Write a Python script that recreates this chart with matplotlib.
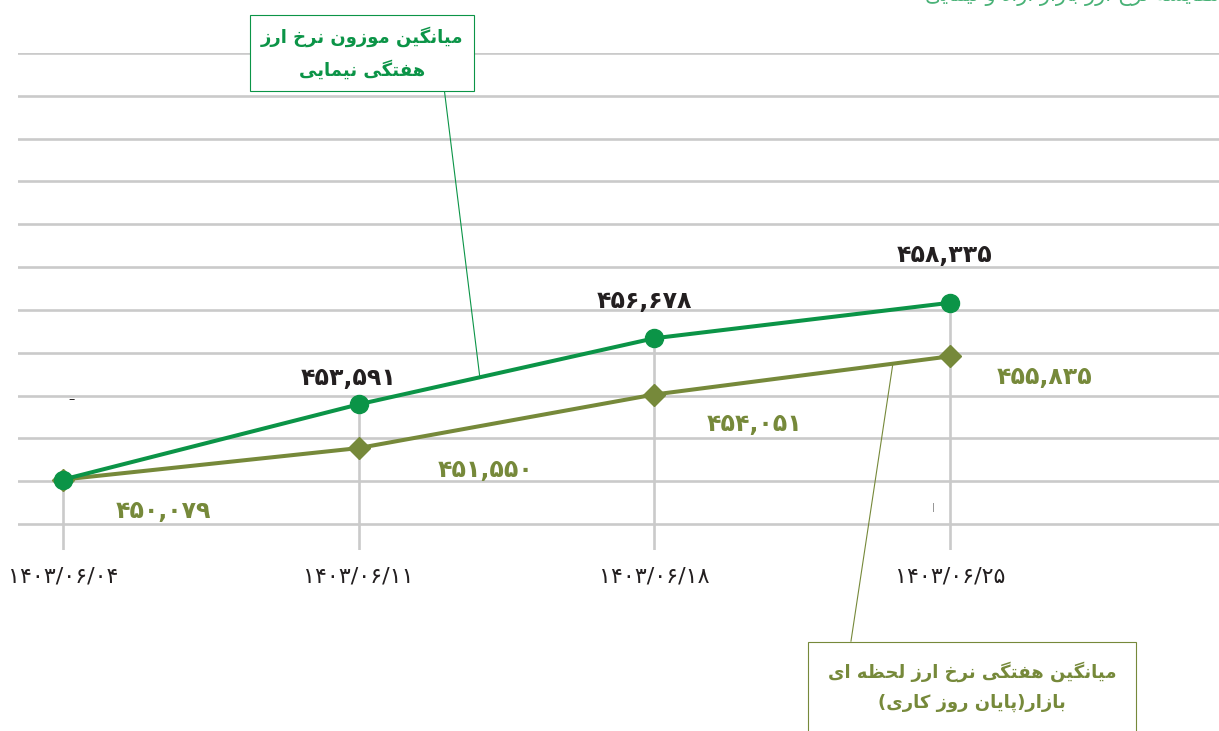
import numpy as np
import matplotlib
matplotlib.use('Agg')
from matplotlib import pyplot as plt

plt.rcParams['font.family'] = ['DejaVu Sans']

# data
dates = ['1403/06/04', '1403/06/11', '1403/06/18', '1403/06/25']
nima = [450079, 453591, 456678, 458335]      # weighted avg, green
market = [450079, 451550, 454051, 455835]    # market avg, olive

title_nima = 'میانگین موزون نرخ ارز\nهفتگی نیمایی'
title_market = 'میانگین هفتگی نرخ ارز لحظه ای\nبازار(پایان روز کاری)'
top_text = 'مقایسه نرخ ارز بازار آزاد و نیمایی'

GREEN = '#0b9447'
OLIVE = '#76893a'
GRID = '#cacaca'
DARK = '#231f20'

# tiny persian shaper (matplotlib has no arabic shaping)
FORMS = {
    'ا': ('\uFE8D', '\uFE8E', None, None),
    'آ': ('\uFE81', '\uFE82', None, None),
    'ب': ('\uFE8F', '\uFE90', '\uFE91', '\uFE92'),
    'پ': ('\uFB56', '\uFB57', '\uFB58', '\uFB59'),
    'ت': ('\uFE95', '\uFE96', '\uFE97', '\uFE98'),
    'ح': ('\uFEA1', '\uFEA2', '\uFEA3', '\uFEA4'),
    'خ': ('\uFEA5', '\uFEA6', '\uFEA7', '\uFEA8'),
    'د': ('\uFEA9', '\uFEAA', None, None),
    'ر': ('\uFEAD', '\uFEAE', None, None),
    'ز': ('\uFEAF', '\uFEB0', None, None),
    'س': ('\uFEB1', '\uFEB2', '\uFEB3', '\uFEB4'),
    'ظ': ('\uFEC5', '\uFEC6', '\uFEC7', '\uFEC8'),
    'ف': ('\uFED1', '\uFED2', '\uFED3', '\uFED4'),
    'ق': ('\uFED5', '\uFED6', '\uFED7', '\uFED8'),
    'ک': ('\uFB8E', '\uFB8F', '\uFB90', '\uFB91'),
    'گ': ('\uFB92', '\uFB93', '\uFB94', '\uFB95'),
    'ل': ('\uFEDD', '\uFEDE', '\uFEDF', '\uFEE0'),
    'م': ('\uFEE1', '\uFEE2', '\uFEE3', '\uFEE4'),
    'ن': ('\uFEE5', '\uFEE6', '\uFEE7', '\uFEE8'),
    'ه': ('\uFEE9', '\uFEEA', '\uFEEB', '\uFEEC'),
    'و': ('\uFEED', '\uFEEE', None, None),
    'ی': ('\uFBFC', '\uFBFD', '\uFBFE', '\uFBFF'),
}


def shape_line(s):
    out = []
    for i, ch in enumerate(s):
        if ch not in FORMS:
            out.append(ch)
            continue
        prev = s[i - 1] if i > 0 else ''
        nxt = s[i + 1] if i < len(s) - 1 else ''
        jp = prev in FORMS and FORMS[prev][2] is not None
        jn = nxt in FORMS and FORMS[ch][2] is not None
        iso, fin, ini, med = FORMS[ch]
        if jp and jn:
            out.append(med)
        elif jp:
            out.append(fin)
        elif jn:
            out.append(ini)
        else:
            out.append(iso)
    vis = ''.join(out)[::-1]
    return vis.translate(str.maketrans('()', ')('))


def fa(s):
    return '\n'.join(shape_line(l) for l in s.split('\n'))


def fa_digits(s):
    return s.translate(str.maketrans('0123456789', '۰۱۲۳۴۵۶۷۸۹'))


def fa_num(v):
    return fa_digits(f'{v:,}')


x = np.arange(len(dates))

fig = plt.figure(figsize=(12.19, 7.31), dpi=100)
ax = fig.add_axes([18 / 1219, 1 - 550 / 731, 1 - 18 / 1219, (550 - 53) / 731])
ax.set_xlim(-0.152, 3.91)
ax.set_ylim(446790, 470000)
ax.set_yticks(np.arange(448000, 470001, 2000))
ax.grid(axis='y', color=GRID, lw=1.9)
ax.set_axisbelow(True)
for s in ax.spines.values():
    s.set_visible(False)
ax.tick_params(length=0, labelleft=False)
ax.set_xticks(x)
ax.set_xticklabels([fa_digits(d) for d in dates], fontsize=16, color=DARK)
ax.tick_params(axis='x', pad=12)

ax.vlines(x, 446790, np.maximum(nima, market), color=GRID, lw=1.9, zorder=1)

ax.plot(x, market, color=OLIVE, lw=2.9, marker='D', ms=11, zorder=3)
ax.plot(x, nima, color=GREEN, lw=2.9, marker='o', ms=13, zorder=4)

# value labels
nima_off = [(0, 0), (-10, 26), (-10, 37), (-5, 48)]
market_off = [(100, -31), (127, -22), (100, -29), (95, -21)]
for i in range(1, len(x)):
    ax.annotate(fa_num(nima[i]), (x[i], nima[i]), xytext=nima_off[i],
                textcoords='offset pixels', ha='center', va='center',
                fontsize=17, fontweight='bold', color=DARK)
for i in range(len(x)):
    ax.annotate(fa_num(market[i]), (x[i], market[i]), xytext=market_off[i],
                textcoords='offset pixels', ha='center', va='center',
                fontsize=17, fontweight='bold', color=OLIVE)

# callout boxes
gx = 1.41
ax.annotate(fa(title_nima), (gx, np.interp(gx, x, nima)),
            xytext=(362 / 1219, 1 - 53 / 731), textcoords='figure fraction',
            ha='center', va='center', fontsize=13, fontweight='bold',
            color=GREEN, linespacing=1.85, annotation_clip=False,
            bbox=dict(boxstyle='square,pad=0.6', fc='white', ec=GREEN, lw=0.8),
            arrowprops=dict(arrowstyle='-', color=GREEN, lw=0.8,
                            relpos=(0.9, 0), shrinkA=0, shrinkB=0))
ox = 2.807
ax.annotate(fa(title_market), (ox, np.interp(ox, x, market)),
            xytext=(972 / 1219, 1 - 687 / 731), textcoords='figure fraction',
            ha='center', va='center', fontsize=13, fontweight='bold',
            color=OLIVE, linespacing=1.85, annotation_clip=False,
            bbox=dict(boxstyle='square,pad=1.1', fc='white', ec=OLIVE, lw=0.8),
            arrowprops=dict(arrowstyle='-', color=OLIVE, lw=0.8,
                            relpos=(0.07, 1), shrinkA=0, shrinkB=0))

fig.text(925 / 1219, 1 + 6 / 731, fa(top_text), ha='left', va='center',
         fontsize=15, color='#49b277')
fig.text(72 / 1219, 1 - 400 / 731, '–', ha='center', va='center',
         fontsize=9, color=DARK)
fig.text(933 / 1219, 1 - 508 / 731, '|', ha='center', va='center',
         fontsize=6, color='#777777')

fig.savefig('out.png', dpi=100)
